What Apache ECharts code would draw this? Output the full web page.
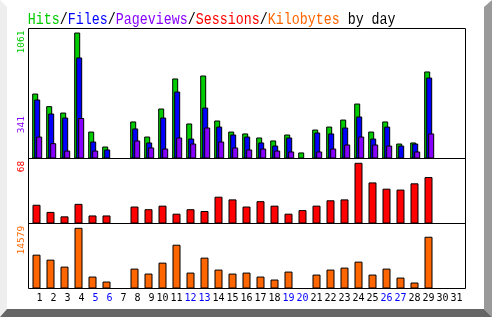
<!DOCTYPE html>
<html>
<head>
<meta charset="utf-8">
<script src="https://cdn.jsdelivr.net/npm/echarts@6/dist/echarts.min.js"></script>
<style>html,body{margin:0;padding:0;background:#fff}#c{width:492px;height:317px}</style>
</head>
<body>
<div id="c"></div>
<script>
const days = ['1','2','3','4','5','6','7','8','9','10','11','12','13','14','15','16','17','18','19','20','21','22','23','24','25','26','27','28','29','30','31'];
const weekendDays = ['5','6','12','13','19','20','26','27'];
const hits     = [547,441,387,1061,227,101,0,312,185,421,674,295,699,320,227,211,177,152,202,51,244,269,328,463,227,312,126,135,733,0,0];
const files    = [497,379,345,851,143,76,0,253,135,345,564,168,429,269,202,185,135,109,177,0,219,211,261,354,168,269,109,126,682,0,0];
const pages    = [185,129,67,341,67,0,0,152,93,84,177,126,261,143,93,76,84,67,59,0,59,84,118,185,118,109,0,59,211,0,0];
const sessions = [21,13,8,22,9,9,0,19,16,20,11,16,14,30,27,19,25,20,11,15,20,26,27,68,46,39,38,45,52,0,0];
const kbytes   = [8126,6931,5258,14579,2868,1673,0,4780,3585,6214,10516,3824,7409,4541,3585,3824,2868,2151,4063,0,3346,4541,5019,6453,3346,4780,2629,1434,12429,0,0];

const C = {hits:'#00cc00', files:'#0000ff', pages:'#8800ff', sessions:'#ff0000', kbytes:'#ff6600'};
const nz = a => a.map(v => v === 0 ? null : v);
const chart = echarts.init(document.getElementById('c'), null, {renderer:'canvas'});

const hidX = (gi, extra) => Object.assign({type:'category', data:days, gridIndex:gi, boundaryGap:true,
  axisLine:{show:false}, axisTick:{show:false}, axisLabel:{show:false}, splitLine:{show:false}}, extra||{});
const hidY = (gi, max) => ({type:'value', gridIndex:gi, min:0, max:max, axisLine:{show:false}, axisTick:{show:false},
  axisLabel:{show:false}, splitLine:{show:false}});
const barStyle = c => ({color:c, borderColor:'#000', borderWidth:1});

const MONO = '"DejaVu Sans Mono", monospace';

chart.setOption({
  animation:false,
  backgroundColor:'#ffffff',
  grid:[
    {left:30.2, width:434, top:28.5, height:130},
    {left:29.5, width:434, top:158.5, height:65},
    {left:29.5, width:434, top:223.5, height:65}
  ],
  xAxis:[
    hidX(0), hidX(1),
    hidX(2, {axisLabel:{show:true, interval:0, margin:5, fontFamily:MONO, fontSize:10,
      formatter: v => (v.length < 2 ? ' ' + v : v),
      color: v => (weekendDays.indexOf(v) >= 0 ? '#0000ff' : '#000000')}})
  ],
  yAxis:[hidY(0, 1095), hidY(1, 72.8), hidY(2, 15612)],
  series:[
    {type:'bar', xAxisIndex:0, yAxisIndex:0, data:nz(hits), barWidth:6, barGap:'-66.7%', itemStyle:barStyle(C.hits)},
    {type:'bar', xAxisIndex:0, yAxisIndex:0, data:nz(files), barWidth:6, barGap:'-66.7%', itemStyle:barStyle(C.files)},
    {type:'bar', xAxisIndex:0, yAxisIndex:0, data:nz(pages), barWidth:6, barGap:'-66.7%', itemStyle:barStyle(C.pages)},
    {type:'bar', xAxisIndex:1, yAxisIndex:1, data:nz(sessions), barWidth:8, itemStyle:barStyle(C.sessions)},
    {type:'bar', xAxisIndex:2, yAxisIndex:2, data:nz(kbytes), barWidth:8, itemStyle:barStyle(C.kbytes)}
  ]
});

function yPix(axisIdx, v){ return chart.convertToPixel({yAxisIndex:axisIdx}, v); }
const maxLabel = (axisIdx, arr, color) => {
  const m = Math.max.apply(null, arr);
  return {type:'text', x:21.7, y:yPix(axisIdx, m) - 2, rotation:Math.PI/2, z:100,
    style:{text:String(m), fill:color, font:'9.5px ' + MONO, align:'right', verticalAlign:'middle'}};
};

chart.setOption({
  graphic:[
    {type:'polygon', z:0, shape:{points:[[0,0],[7,7],[7,309],[0,317]]}, style:{fill:'#eeeeee'}},
    {type:'polygon', z:0, shape:{points:[[492,0],[484,7],[484,309],[492,317]]}, style:{fill:'#999999'}},
    {type:'polygon', z:0, shape:{points:[[0,317],[7,309],[484,309],[492,317]]}, style:{fill:'#666666'}},
    {type:'rect', z:100, shape:{x:28.5, y:28.5, width:437, height:260}, style:{fill:'none', stroke:'#000', lineWidth:1}},
    {type:'line', z:100, shape:{x1:28.5, y1:158.5, x2:465.5, y2:158.5}, style:{stroke:'#000', lineWidth:1}},
    {type:'line', z:100, shape:{x1:28.5, y1:223.5, x2:465.5, y2:223.5}, style:{stroke:'#000', lineWidth:1}},
    {type:'text', x:27.7, y:27.5, scaleY:1.3, z:100,
      style:{font:'13.33px "Liberation Mono", monospace', verticalAlign:'bottom', align:'left',
        text:'{g|Hits}/{b|Files}/{p|Pageviews}/{r|Sessions}/{o|Kilobytes} by day', fill:'#000',
        rich:{g:{fill:C.hits}, b:{fill:C.files}, p:{fill:C.pages}, r:{fill:C.sessions}, o:{fill:C.kbytes}}}},
    maxLabel(0, hits, C.hits),
    maxLabel(0, pages, C.pages),
    maxLabel(1, sessions, C.sessions),
    maxLabel(2, kbytes, C.kbytes)
  ]
});
</script>
</body>
</html>
